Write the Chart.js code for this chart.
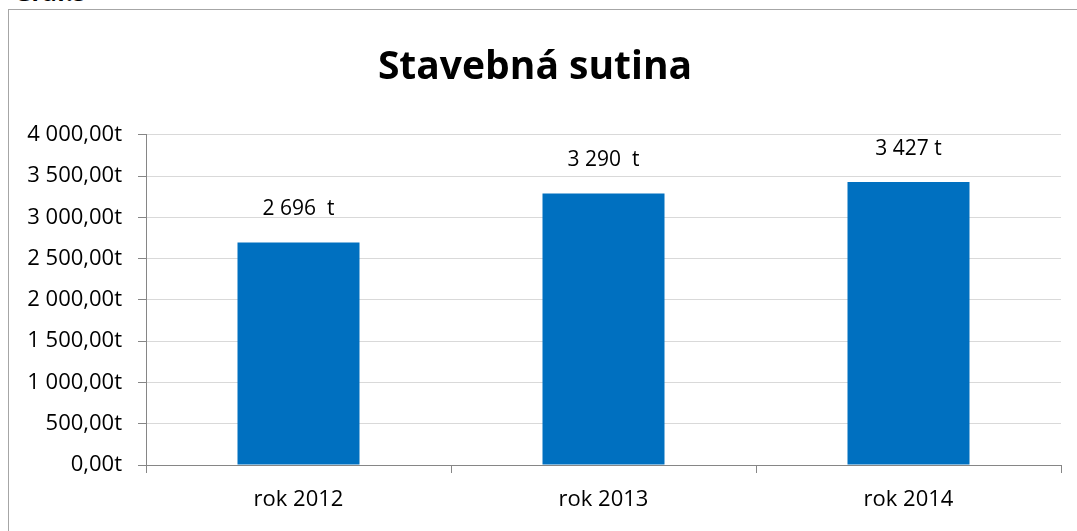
<!DOCTYPE html>
<html>
<head>
<meta charset="utf-8">
<script src="https://cdn.jsdelivr.net/npm/chart.js@4"></script>
<style>
  html, body { margin: 0; padding: 0; background: #fff; overflow: hidden; }
  body { width: 1077px; height: 531px; position: relative; font-family: "Open Sans", sans-serif; }
  .caption { position: absolute; left: 14px; top: -25px; font-size: 24px; font-weight: bold; color: #000; }
  .frame { position: absolute; left: 8px; top: 9px; width: 1069px; height: 522px;
           border-left: 1px solid #a6a6a6; border-top: 1px solid #a6a6a6; box-sizing: border-box; }
  .frame canvas { display: block; }
</style>
</head>
<body>
<div class="caption">Graf.5</div>
<div class="frame"><canvas id="chart" width="1068" height="521"></canvas></div>
<script>
// Data
const categories = ['rok 2012', 'rok 2013', 'rok 2014'];
const values = [2696, 3290, 3427];
const valueLabels = ['2 696  t', '3 290  t', '3 427 t'];
const yTicks = ['0,00t', '500,00t', '1 000,00t', '1 500,00t', '2 000,00t', '2 500,00t', '3 000,00t', '3 500,00t', '4 000,00t'];

const FONT = '"Open Sans", sans-serif';

// Value labels drawn above each bar
const barLabels = {
  id: 'barLabels',
  afterDatasetsDraw(chart) {
    const ctx = chart.ctx;
    const meta = chart.getDatasetMeta(0);
    ctx.save();
    ctx.font = '21px ' + FONT;
    ctx.fillStyle = '#000';
    ctx.textAlign = 'center';
    ctx.textBaseline = 'middle';
    meta.data.forEach((bar, i) => {
      ctx.fillText(valueLabels[i], bar.x, bar.y - 33);
    });
    ctx.restore();
  }
};

document.addEventListener('DOMContentLoaded', function() {
  const ctx = document.getElementById('chart');
  new Chart(ctx.getContext('2d'), {
    type: 'bar',
    data: {
      labels: categories,
      datasets: [{
        data: values,
        backgroundColor: '#0070c0',
        barPercentage: 0.4,
        categoryPercentage: 1
      }]
    },
    options: {
      responsive: false,
      animation: false,
      layout: { padding: { left: 0, right: 16, top: 0, bottom: 0 } },
      plugins: {
        legend: { display: false },
        tooltip: { enabled: false },
        title: {
          display: true,
          text: 'Stavebná sutina',
          color: '#000',
          font: { family: FONT, size: 39, weight: 'bold' },
          padding: { top: 34, bottom: 44 }
        }
      },
      scales: {
        x: {
          grid: { display: true, drawOnChartArea: false, offset: true, tickLength: 8, color: '#868686' },
          border: { color: '#868686' },
          ticks: { color: '#000', font: { family: FONT, size: 22 }, padding: 14 },
          afterFit(scale) { scale.height = 66; }
        },
        y: {
          min: 0,
          max: 4000,
          grid: { color: '#d9d9d9', tickLength: 8, tickColor: '#868686' },
          border: { color: '#868686' },
          ticks: {
            stepSize: 500,
            color: '#000',
            font: { family: FONT, size: 22 },
            padding: 16,
            callback: function(value) { return yTicks[Math.round(value / 500)]; }
          },
          afterFit(scale) { scale.width = 137; }
        }
      }
    },
    plugins: [barLabels]
  });
});
</script>
</body>
</html>
